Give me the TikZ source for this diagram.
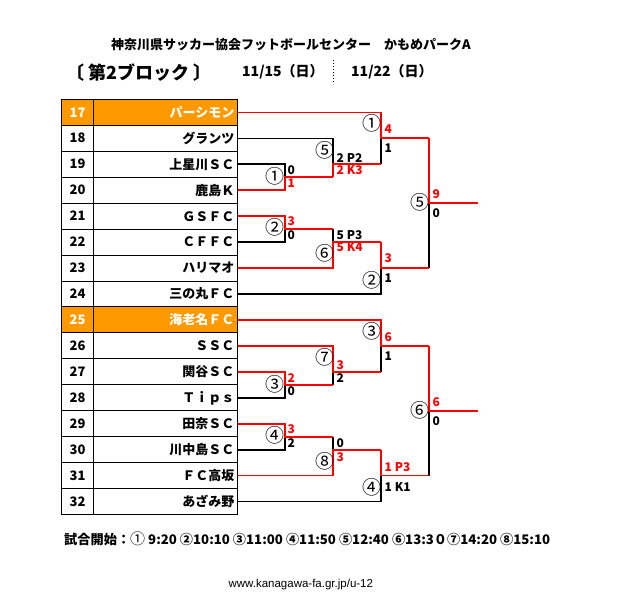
\documentclass[tikz,border=0pt]{standalone}
\usepackage{fontspec}
\setmainfont{Noto Sans CJK JP}
\newfontfamily\urlfont{Liberation Sans}
\definecolor{orng}{HTML}{FF9900}
\definecolor{wred}{HTML}{FF0000}
\tikzset{
  winline/.style={draw=wred, line width=1.5pt},
  loseline/.style={draw=black, line width=1.5pt},
  grid/.style={draw=black, line width=1pt},
  teamname/.style={anchor=east, inner sep=0pt, font=\fontsize{13}{13}\selectfont\bfseries},
  teamnum/.style={inner sep=0pt, font=\fontsize{13}{13}\selectfont\bfseries},
  sc/.style={anchor=west, inner sep=0pt, font=\fontsize{12}{12}\selectfont\bfseries},
  rsc/.style={sc, text=wred},
  mno/.style={inner sep=0pt, font=\fontsize{19}{19}\selectfont},
}
\begin{document}
\begin{tikzpicture}[x=1pt,y=-1pt]
\useasboundingbox (0,0) rectangle (638,610);
% header
\node[inner sep=0pt, font=\fontsize{13}{13}\selectfont\bfseries] (title) at (291,45) {神奈川県サッカー協会フットボールセンター　かもめパークA};
\node[inner sep=0pt, font=\fontsize{18}{18}\selectfont\bfseries] (block) at (139,72.5) {〔 第2ブロック 〕};
\node[inner sep=0pt, anchor=west, font=\fontsize{14}{14}\selectfont\bfseries] (d1) at (242,72) {11/15（日）};
\node[inner sep=0pt, anchor=west, font=\fontsize{14}{14}\selectfont\bfseries] (d2) at (351,72) {11/22（日）};
\coordinate (dtop) at (333,60);
\coordinate (dbot) at (333,84);
\draw[dotted, line width=1pt] (dtop) -- (dbot);
% table
\fill[orng] (61.7,99.3) rectangle (237.7,125.26);
\fill[orng] (61.7,306.98) rectangle (237.7,332.94);
\draw[grid] (61.7,99.3) rectangle (237.7,514.66);
\draw[grid] (93.3,99.3) -- (93.3,514.66);
\foreach \i in {1,...,15} {
  \draw[grid] (61.7,99.3+\i*25.96) -- (237.7,99.3+\i*25.96);
}
\foreach \k/\nm/\col [count=\i from 0] in {
 17/パーシモン/white, 18/グランツ/black, 19/上星川ＳＣ/black, 20/鹿島Ｋ/black,
 21/ＧＳＦＣ/black, 22/ＣＦＦＣ/black, 23/ハリマオ/black, 24/三の丸ＦＣ/black,
 25/海老名ＦＣ/white, 26/ＳＳＣ/black, 27/関谷ＳＣ/black, 28/Ｔｉｐｓ/black,
 29/田奈ＳＣ/black, 30/川中島ＳＣ/black, 31/ＦＣ高坂/black, 32/あざみ野/black} {
  \node[teamnum, text=\col] (num\k) at (77.5,112.3+\i*25.96) {\k};
  \node[teamname, text=\col] (nm\k) at (234.5,112.3+\i*25.96) {\nm};
  \coordinate (t\k) at (237.7,112.3+\i*25.96);
}
% match junctions
\coordinate (m1) at (285,177.2);
\coordinate (m2) at (285,229.1);
\coordinate (m3) at (285,384.9);
\coordinate (m4) at (285,436.8);
\coordinate (m5) at (333,164.2);
\coordinate (m6) at (333,242.1);
\coordinate (m7) at (333,371.9);
\coordinate (m8) at (333,449.8);
\coordinate (mA) at (381,138.2);
\coordinate (mB) at (381,268.1);
\coordinate (mC) at (381,346.0);
\coordinate (mD) at (381,475.7);
\coordinate (mE) at (429,203.2);
\coordinate (mF) at (429,410.9);
\coordinate (oE) at (478,203.2);
\coordinate (oF) at (478,410.9);
% losing lines
\draw[loseline] (t19) -| (m1);
\draw[loseline] (t22) -| (m2);
\draw[loseline] (t18) -| (m5);
\draw[loseline] (m2 -| m6) -- (m6);
\draw[loseline] (m5 -| mA) -- (mA);
\draw[loseline] (t24) -| (mB);
\draw[loseline] (mB -| mE) -- (mE);
\draw[loseline] (t28) -| (m3);
\draw[loseline] (t30) -| (m4);
\draw[loseline] (m3 -| m7) -- (m7);
\draw[loseline] (m4 -| m8) -- (m8);
\draw[loseline] (m7 -| mC) -- (mC);
\draw[loseline] (t32) -| (mD);
\draw[loseline] (mD -| mF) -- (mF);
% winning lines
\draw[winline] (t20) -| (m1) -- (m1 -| m5);
\draw[winline] (t21) -| (m2) -- (m2 -| m6);
\draw[winline] (m1 -| m5) -- (m5) -- (m5 -| mA);
\draw[winline] (t23) -| (m6) -- (m6 -| mB);
\draw[winline] (t17) -| (mA) -- (mA -| mE);
\draw[winline] (m6 -| mB) -- (mB) -- (mB -| mE);
\draw[winline] (mA -| mE) -- (mE) -- (oE);
\draw[winline] (t27) -| (m3) -- (m3 -| m7);
\draw[winline] (t29) -| (m4) -- (m4 -| m8);
\draw[winline] (t26) -| (m7) -- (m7 -| mC);
\draw[winline] (t31) -| (m8) -- (m8 -| mD);
\draw[winline] (t25) -| (mC) -- (mC -| mF);
\draw[winline] (m8 -| mD) -- (mD) -- (mD -| mF);
\draw[winline] (mC -| mF) -- (mF) -- (oF);
% match numbers and scores, top half
\node[mno] (c1) at (275,176.5) {①};
\node[sc]  (s1a) at (287.5,170) {0};
\node[rsc] (s1b) at (287.5,183) {1};
\node[mno] (c5) at (324.5,150) {⑤};
\node[sc]  (s5a) at (336.5,158) {2 P2};
\node[rsc] (s5b) at (336.5,170.5) {2 K3};
\node[mno] (cA) at (372,123) {①};
\node[rsc] (sAa) at (384.5,129) {4};
\node[sc]  (sAb) at (384.5,148) {1};
\node[mno] (c2) at (275,227) {②};
\node[rsc] (s2a) at (287.5,221.5) {3};
\node[sc]  (s2b) at (287.5,235.5) {0};
\node[mno] (c6) at (324.5,253) {⑥};
\node[sc]  (s6a) at (336.5,235) {5 P3};
\node[rsc] (s6b) at (336.5,247) {5 K4};
\node[mno] (cB) at (372,280) {②};
\node[rsc] (sBa) at (384.5,258) {3};
\node[sc]  (sBb) at (384.5,278) {1};
\node[mno] (cE) at (420,202) {⑤};
\node[rsc] (sEa) at (432.5,194) {9};
\node[sc]  (sEb) at (432.5,213) {0};
% bottom half
\node[mno] (c3) at (275,384) {③};
\node[rsc] (s3a) at (287.5,377.7) {2};
\node[sc]  (s3b) at (287.5,391) {0};
\node[mno] (c7) at (324.5,357.3) {⑦};
\node[rsc] (s7a) at (336.5,365) {3};
\node[sc]  (s7b) at (336.5,377.7) {2};
\node[mno] (cC) at (372,331.7) {③};
\node[rsc] (sCa) at (384.5,337.3) {6};
\node[sc]  (sCb) at (384.5,355.7) {1};
\node[mno] (c4) at (275,435) {④};
\node[rsc] (s4a) at (287.5,429.5) {3};
\node[sc]  (s4b) at (287.5,443.2) {2};
\node[mno] (c8) at (324.5,461) {⑧};
\node[sc]  (s8a) at (336.5,442.7) {0};
\node[rsc] (s8b) at (336.5,456.7) {3};
\node[mno] (cD) at (372,487.7) {④};
\node[rsc] (sDa) at (384.5,466.7) {1 P3};
\node[sc]  (sDb) at (384.5,486.7) {1 K1};
\node[mno] (cF) at (420,410) {⑥};
\node[rsc] (sFa) at (432.5,401.7) {6};
\node[sc]  (sFb) at (432.5,420.7) {0};
% footer
\node[inner sep=0pt, anchor=west, font=\fontsize{13.2}{13.2}\selectfont\bfseries] (times) at (64,539) {試合開始：{\fontsize{15}{15}\selectfont\mdseries ①} 9:20 ②10:10 ③11:00 ④11:50 ⑤12:40 ⑥13:3０⑦14:20 ⑧15:10};
\node[inner sep=0pt, font=\urlfont\fontsize{11.5}{11.5}\selectfont] (url) at (300.8,585) {www.kanagawa-fa.gr.jp/u-12};
\end{tikzpicture}
\end{document}
